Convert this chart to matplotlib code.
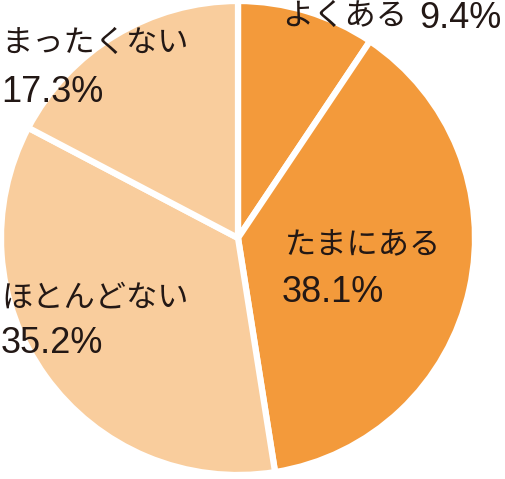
import matplotlib
matplotlib.use("Agg")
import matplotlib.pyplot as plt

plt.rcParams['font.family'] = ['Noto Sans CJK JP', 'DejaVu Sans']

# answers, shares (%) clockwise from the top
labels = ["よくある", "たまにある", "ほとんどない", "まったくない"]
shares = [9.4, 38.1, 35.2, 17.3]
colors = ["#F39A3B", "#F39A3B", "#F9CD9D", "#F9CD9D"]

W, H = 506, 479
fig = plt.figure(figsize=(W / 100, H / 100), dpi=100)

# pie centre (238, 238) px from top-left, radius 237 px
cx, cy, r = 238, 238, 237
ax = fig.add_axes([(cx - r) / W, (H - cy - r) / H, 2 * r / W, 2 * r / H])
ax.pie(shares, colors=colors, startangle=90, counterclock=False,
       radius=1, wedgeprops=dict(edgecolor="white", linewidth=4.5))
ax.set_xlim(-1, 1)
ax.set_ylim(-1, 1)
ax.axis("off")


def kana(x, y, s):
    # x, y in pixels from top-left, y = vertical centre
    fig.text(x / W, 1 - y / H, s, ha="left", va="center",
             fontsize=22.5, color="#231815")


def pct(x, y, v):
    # y = baseline in pixels from top
    fig.text(x / W, 1 - y / H, f"{v}%", ha="left", va="baseline",
             fontsize=26, color="#231815", family="Liberation Sans")


kana(282, 16, labels[0])
pct(419, 28, shares[0])
kana(285, 245, labels[1])
pct(282, 302, shares[1])
kana(1, 298, labels[2])
pct(1, 353, shares[2])
kana(1, 43, labels[3])
pct(1, 102, shares[3])

fig.savefig("out.png", dpi=100)
